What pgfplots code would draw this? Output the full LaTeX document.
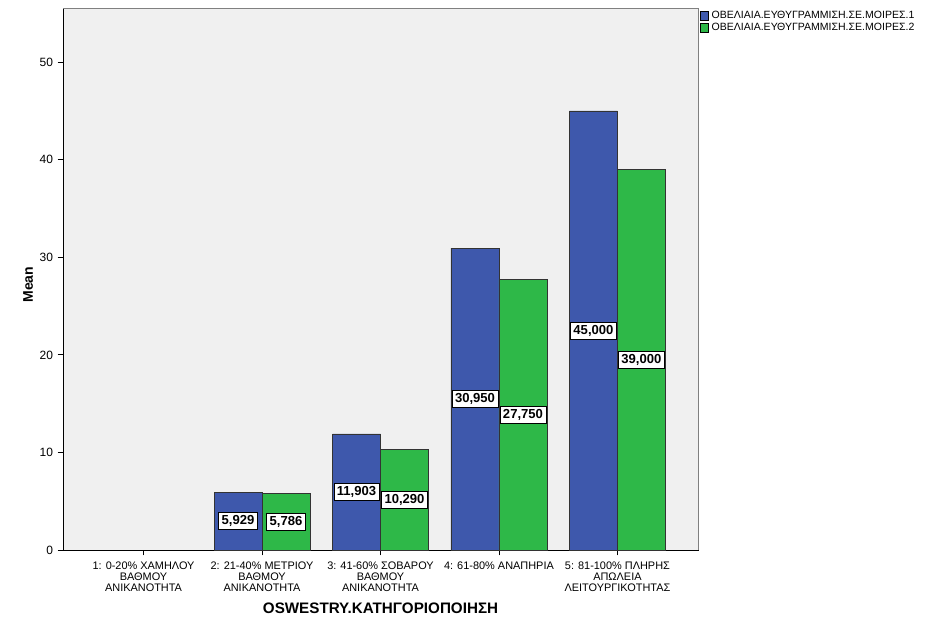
\documentclass[border=0pt]{standalone}
\usepackage{pgfplots}
\pgfplotsset{compat=1.18}
\usepackage{pgfplotstable}
\usepackage{fontspec}
\setmainfont{Liberation Sans}
\definecolor{spssblue}{RGB}{62,88,172}
\definecolor{spssgreen}{RGB}{46,184,72}
\definecolor{plotbg}{RGB}{240,240,240}
\pgfplotstableread{
x y label
1 5.929 5,929
2 11.903 11,903
3 30.950 30,950
4 45.000 45,000
}\blue
\pgfplotstableread{
x y label
1 5.786 5,786
2 10.290 10,290
3 27.750 27,750
4 39.000 39,000
}\green
\begin{document}
\begin{tikzpicture}[x=1pt,y=1pt]
\path[use as bounding box] (0,0) rectangle (699,474.75);
\begin{axis}[
  at={(47.25pt,62.25pt)}, anchor=south west,
  scale only axis, width=476.25pt, height=406.1pt,
  xmin=-0.68, xmax=4.68, ymin=0, ymax=55.5,
  axis background/.style={fill=plotbg},
  axis line style={draw=black, line width=0.6pt},
  ytick={0,10,20,30,40,50},
  xtick={0,1,2,3,4},
  xticklabels={{1: 0-20\% ΧΑΜΗΛΟΥ\\ΒΑΘΜΟΥ\\ΑΝΙΚΑΝΟΤΗΤΑ},{2: 21-40\% ΜΕΤΡΙΟΥ\\ΒΑΘΜΟΥ\\ΑΝΙΚΑΝΟΤΗΤΑ},{3: 41-60\% ΣΟΒΑΡΟΥ\\ΒΑΘΜΟΥ\\ΑΝΙΚΑΝΟΤΗΤΑ},{4: 61-80\% ΑΝΑΠΗΡΙΑ},{5: 81-100\% ΠΛΗΡΗΣ\\ΑΠΩΛΕΙΑ\\ΛΕΙΤΟΥΡΓΙΚΟΤΗΤΑΣ}},
  xticklabel style={font=\fontsize{8.2}{8.3}\selectfont, align=center, anchor=north, yshift=-1pt},
  yticklabel style={font=\fontsize{9}{10}\selectfont},
  /pgf/number format/assume math mode=true,
  tick align=outside, tick pos=left,
  major tick length=4pt,
  tick style={black, line width=0.6pt},
  xlabel={\bfseries OSWESTRY.ΚΑΤΗΓΟΡΙΟΠΟΙΗΣΗ},
  xlabel style={font=\fontsize{11.4}{12}\selectfont, at={(0.5,0)}, yshift=-36pt},
  ylabel={\bfseries Mean},
  ylabel style={font=\fontsize{10.5}{12}\selectfont, at={(axis description cs:-0.055,0.49)}, anchor=center},
  ybar, bar width=0.405,
  every axis plot/.append style={draw=black!80, line width=0.5pt},
  nodes near coords,
  point meta=explicit symbolic,
  visualization depends on=y \as \rawy,
  every node near coord/.append style={font=\fontsize{9.8}{11}\selectfont\bfseries, fill=white, draw=black, line width=0.5pt, inner sep=2.2pt, anchor=center, shift={(axis direction cs:0,-\rawy/2)}},
  legend style={at={(1,1)}, anchor=north west, draw=none, fill=none, font=\fontsize{7.9}{8}\selectfont, xshift=0pt, yshift=0.3pt, inner xsep=1pt, inner ysep=0pt, row sep=-2pt, cells={anchor=west}},
  legend image code/.code={\draw[#1, draw=black, line width=0.4pt] (0pt,-3.3pt) rectangle (6.6pt,3.3pt);},
  clip=false,
]
\addplot[fill=spssblue, bar shift=-0.2025] table[x=x,y=y,meta=label] {\blue};
\addplot[fill=spssgreen, bar shift=0.2025] table[x=x,y=y,meta=label] {\green};
\legend{ΟΒΕΛΙΑΙΑ.ΕΥΘΥΓΡΑΜΜΙΣΗ.ΣΕ.ΜΟΙΡΕΣ.1,ΟΒΕΛΙΑΙΑ.ΕΥΘΥΓΡΑΜΜΙΣΗ.ΣΕ.ΜΟΙΡΕΣ.2}
\draw[gray, line width=0.6pt] (rel axis cs:0,1) -- (rel axis cs:1,1) -- (rel axis cs:1,0);
\end{axis}
\end{tikzpicture}
\end{document}
